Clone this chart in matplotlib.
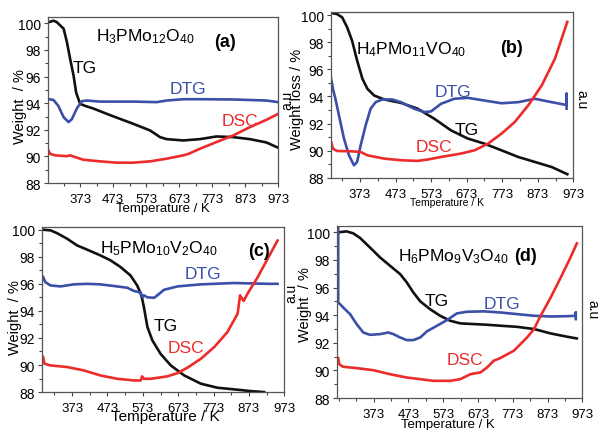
import matplotlib
matplotlib.use("Agg")
import matplotlib.pyplot as plt
from matplotlib.ticker import AutoMinorLocator

plt.rcParams['font.family'] = ['Liberation Sans', 'DejaVu Sans']
plt.rcParams['mathtext.fontset'] = 'custom'
plt.rcParams['mathtext.rm'] = 'Liberation Sans'
plt.rcParams['mathtext.it'] = 'Liberation Sans'
plt.rcParams['mathtext.bf'] = 'Liberation Sans:bold'

BLACK = '#111111'
BLUE = '#3b4ea8'
RED = '#ec2b2b'

# ---- (a) H3PMo12O40 ----
a_tg_T = [280, 292, 302, 323, 333, 343, 353, 361, 373, 388, 413, 464, 534, 585, 615, 635, 685, 736, 786, 837, 887, 937, 973]
a_tg = [100.1, 100.2, 100.1, 99.6, 98.6, 97.3, 96.1, 94.8, 93.95, 93.8, 93.6, 93.1, 92.45, 91.95, 91.45, 91.3, 91.2, 91.3, 91.5, 91.45, 91.3, 91.05, 90.65]
a_dtg_T = [277, 292, 307, 323, 338, 348, 363, 378, 393, 433, 534, 605, 635, 685, 736, 837, 937, 973]
a_dtg = [94.3, 94.25, 93.8, 92.95, 92.58, 92.8, 93.6, 94.15, 94.2, 94.12, 94.12, 94.08, 94.2, 94.3, 94.3, 94.28, 94.2, 94.08]
a_dsc_T = [277, 282, 297, 333, 343, 358, 383, 433, 484, 534, 585, 635, 685, 700, 736, 786, 837, 887, 937, 973]
a_dsc = [90.45, 90.2, 90.08, 90.02, 90.08, 89.95, 89.75, 89.63, 89.53, 89.53, 89.63, 89.83, 90.08, 90.18, 90.58, 91.08, 91.58, 92.2, 92.75, 93.2]

# ---- (b) H4PMo11VO40 ----
b_tg_T = [295, 309, 323, 337, 351, 365, 380, 394, 413, 441, 488, 535, 582, 629, 676, 723, 771, 818, 865, 912, 956]
b_tg = [100.15, 100.07, 99.83, 99.1, 98.1, 96.65, 95.3, 94.56, 94.07, 93.78, 93.53, 93.1, 92.36, 91.5, 90.9, 90.52, 90.03, 89.54, 89.17, 88.8, 88.27]
b_dtg_T = [292, 297, 304, 314, 328, 342, 356, 365, 375, 389, 403, 417, 436, 464, 488, 525, 554, 573, 601, 638, 676, 723, 771, 818, 865, 912, 950, 954, 954, 954]
b_dtg = [95.3, 94.56, 93.83, 92.6, 90.9, 89.67, 88.93, 89.17, 90.4, 91.87, 93.1, 93.58, 93.78, 93.78, 93.58, 93.1, 92.85, 92.9, 93.46, 93.83, 93.9, 93.7, 93.5, 93.58, 93.83, 93.58, 93.39, 93.39, 94.2, 93.1]
b_dsc_T = [292, 297, 309, 347, 375, 394, 441, 488, 535, 563, 601, 657, 695, 733, 771, 808, 846, 884, 921, 956]
b_dsc = [90.64, 90.15, 89.98, 89.96, 89.91, 89.66, 89.42, 89.3, 89.25, 89.35, 89.54, 89.79, 90.03, 90.52, 91.26, 92.11, 93.34, 94.81, 96.77, 99.5]

# ---- (c) H5PMo10V2O40 ----
c_tg_T = [291, 312, 330, 359, 387, 416, 453, 482, 510, 538, 557, 567, 571, 576, 586, 600, 623, 652, 690, 737, 784, 831, 879, 916]
c_tg = [100.0, 99.95, 99.75, 99.33, 98.84, 98.52, 98.1, 97.73, 97.24, 96.62, 95.88, 95.27, 94.9, 94.28, 92.8, 91.82, 90.83, 89.97, 89.23, 88.62, 88.32, 88.2, 88.07, 88.0]
c_dtg_T = [291, 297, 312, 340, 378, 416, 453, 491, 529, 548, 567, 572, 576, 586, 605, 614, 633, 671, 737, 831, 926, 954]
c_dtg = [96.5, 96.13, 95.88, 95.81, 95.96, 96.0, 95.96, 95.84, 95.71, 95.47, 95.35, 95.0, 95.15, 95.0, 94.97, 95.15, 95.56, 95.81, 95.96, 96.06, 96.0, 96.0]
c_dsc_T = [291, 295, 312, 359, 406, 453, 501, 548, 567, 571, 576, 595, 642, 671, 699, 737, 775, 812, 841, 848, 858, 869, 898, 926, 954]
c_dsc = [90.59, 90.09, 89.97, 89.85, 89.6, 89.23, 88.98, 88.86, 88.86, 89.16, 88.98, 88.98, 89.16, 89.4, 89.8, 90.46, 91.33, 92.43, 93.79, 95.15, 94.73, 95.27, 96.5, 97.86, 99.2]

# ---- (d) H6PMo9V3O40 ----
d_tg_T = [271, 295, 314, 334, 362, 391, 420, 449, 468, 487, 507, 535, 564, 593, 622, 660, 699, 737, 785, 834, 882, 930, 957]
d_tg = [100.0, 100.07, 99.93, 99.59, 98.91, 98.19, 97.58, 96.98, 96.38, 95.65, 95.0, 94.44, 93.96, 93.6, 93.41, 93.36, 93.31, 93.24, 93.16, 93.0, 92.68, 92.44, 92.32]
d_dtg_T = [271, 271, 285, 305, 324, 343, 362, 391, 415, 430, 449, 468, 487, 507, 526, 555, 584, 612, 641, 689, 737, 785, 834, 882, 930, 954, 954, 954]
d_dtg = [100.5, 94.93, 94.57, 94.08, 93.36, 92.75, 92.58, 92.63, 92.75, 92.63, 92.39, 92.2, 92.2, 92.39, 92.83, 93.24, 93.65, 94.13, 94.25, 94.28, 94.2, 94.08, 93.96, 93.91, 93.93, 93.96, 94.2, 93.72]
d_dsc_T = [271, 274, 285, 324, 372, 420, 468, 507, 545, 593, 622, 651, 680, 699, 718, 737, 776, 814, 834, 853, 882, 911, 939, 957]
d_dsc = [90.89, 90.46, 90.27, 90.17, 90.02, 89.73, 89.49, 89.37, 89.25, 89.25, 89.37, 89.73, 89.86, 90.22, 90.7, 90.9, 91.43, 92.39, 93.0, 93.96, 95.29, 96.74, 98.19, 99.2]

xticks = [373, 473, 573, 673, 773, 873, 973]
yticks = [88, 90, 92, 94, 96, 98, 100]

panels = [
    dict(rect=[0.080, 0.573, 0.383, 0.385], xl=276, yt=100.47,
         title=r'H$_3$PMo$_{12}$O$_{40}$', title_xy=(570, 99.1), tag='(a)', tag_xy=(811, 98.6),
         tg=(a_tg_T, a_tg), dtg=(a_dtg_T, a_dtg), dsc=(a_dsc_T, a_dsc),
         tg_xy=(388, 96.7), dtg_xy=(700, 95.1), dsc_xy=(857, 92.7),
         ylabel='Weight  / %', ylab=(-0.122, 0.464), xlab=(0.5, -0.15), xfs=9.5,
         au=(1.04, 0.506), au_rot=90),
    dict(rect=[0.551, 0.585, 0.403, 0.384], xl=292, yt=100.2,
         title=r'H$_4$PMo$_{11}$VO$_{40}$', title_xy=(516, 97.5), tag='(b)', tag_xy=(799, 97.6),
         tg=(b_tg_T, b_tg), dtg=(b_dtg_T, b_dtg), dsc=(b_dsc_T, b_dsc),
         tg_xy=(672, 91.6), dtg_xy=(634, 94.4), dsc_xy=(582, 90.3),
         ylabel='Weight loss / %', ylab=(-0.14, 0.478), xlab=(0.48, -0.143), xfs=7.5,
         au=(1.033, 0.478), au_rot=-90),
    dict(rect=[0.070, 0.088, 0.403, 0.383], xl=288, yt=100.2,
         title=r'H$_5$PMo$_{10}$V$_2$O$_{40}$', title_xy=(619, 98.7), tag='(c)', tag_xy=(902, 98.47),
         tg=(c_tg_T, c_tg), dtg=(c_dtg_T, c_dtg), dsc=(c_dsc_T, c_dsc),
         tg_xy=(638, 92.9), dtg_xy=(742, 96.75), dsc_xy=(694, 91.3),
         ylabel='Weight  / %', ylab=(-0.112, 0.455), xlab=(0.508, -0.145), xfs=11,
         au=(1.03, 0.606), au_rot=90),
    dict(rect=[0.561, 0.074, 0.408, 0.40], xl=268, yt=100.48,
         title=r'H$_6$PMo$_9$V$_3$O$_{40}$', title_xy=(603, 98.3), tag='(d)', tag_xy=(809, 98.3),
         tg=(d_tg_T, d_tg), dtg=(d_dtg_T, d_dtg), dsc=(d_dsc_T, d_dsc),
         tg_xy=(555, 95.1), dtg_xy=(742, 94.85), dsc_xy=(636, 90.8),
         ylabel='Weight  / %', ylab=(-0.13, 0.546), xlab=(0.45, -0.151), xfs=9.5,
         au=(1.04, 0.517), au_rot=-90),
]

fig = plt.figure(figsize=(6.01, 4.31), dpi=100)

for p in panels:
    ax = fig.add_axes(p['rect'])
    ax.plot(*p['tg'], color=BLACK, lw=1.9)
    ax.plot(*p['dtg'], color=BLUE, lw=1.9)
    ax.plot(*p['dsc'], color=RED, lw=1.9)
    ax.set_xlim(p['xl'], 973)
    ax.set_ylim(88, p['yt'])
    ax.set_xticks(xticks)
    ax.set_yticks(yticks)
    ax.xaxis.set_minor_locator(AutoMinorLocator(2))
    ax.yaxis.set_minor_locator(AutoMinorLocator(2))
    ax.tick_params(axis='both', which='major', length=3, width=0.8, color='#444444', pad=2)
    ax.tick_params(axis='both', which='minor', length=2, width=0.8, color='#444444')
    ax.tick_params(axis='y', which='major', labelsize=10)
    ax.tick_params(axis='x', which='major', labelsize=9.5, pad=4)
    for s in ax.spines.values():
        s.set_color('#555555')
        s.set_linewidth(0.9)

    ax.set_ylabel(p['ylabel'], fontsize=10.5)
    ax.yaxis.set_label_coords(*p['ylab'])
    ax.yaxis.label.set_va('center')
    ax.set_xlabel('Temperature / K', fontsize=p['xfs'])
    ax.xaxis.set_label_coords(*p['xlab'])
    ax.xaxis.label.set_va('center')

    ax.text(p['au'][0], p['au'][1], 'a.u', transform=ax.transAxes, rotation=p['au_rot'],
            ha='center', va='center', fontsize=10)

    ax.text(*p['title_xy'], p['title'], fontsize=12.5, ha='center', va='center')
    ax.text(*p['tag_xy'], p['tag'], fontsize=13, fontweight='bold', ha='center', va='center')
    ax.text(*p['tg_xy'], 'TG', fontsize=12.5, ha='center', va='center', color='black')
    ax.text(*p['dtg_xy'], 'DTG', fontsize=12.5, ha='center', va='center', color=BLUE)
    ax.text(*p['dsc_xy'], 'DSC', fontsize=12.5, ha='center', va='center', color=RED)

fig.savefig('out.png', dpi=100)
